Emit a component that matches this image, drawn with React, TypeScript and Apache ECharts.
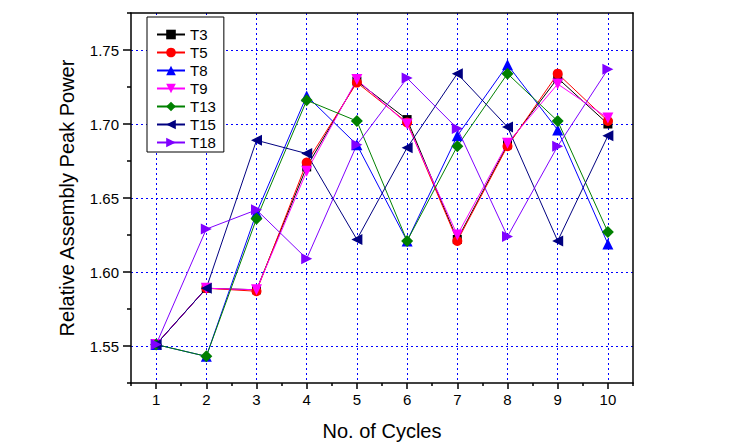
import React, { useEffect, useRef } from "react";
import * as echarts from "echarts";

const cycles = [1, 2, 3, 4, 5, 6, 7, 8, 9, 10];
const xMinorTicks = [0.5, 1.5, 2.5, 3.5, 4.5, 5.5, 6.5, 7.5, 8.5, 9.5, 10.5];
const yMajorTicks = [1.55, 1.6, 1.65, 1.7, 1.75];
const yMinorTicks = [1.525, 1.575, 1.625, 1.675, 1.725, 1.775];

const T3 = [1.551, 1.589, 1.588, 1.671, 1.729, 1.703, 1.622, 1.686, 1.731, 1.7];
const T5 = [1.551, 1.589, 1.587, 1.674, 1.728, 1.701, 1.621, 1.685, 1.734, 1.702];
const T8 = [1.551, 1.543, 1.64, 1.719, 1.686, 1.621, 1.692, 1.74, 1.696, 1.619];
const T9 = [1.551, 1.589, 1.588, 1.668, 1.73, 1.7, 1.625, 1.687, 1.727, 1.704];
const T13 = [1.551, 1.543, 1.636, 1.716, 1.702, 1.621, 1.685, 1.734, 1.702, 1.627];
const T15 = [1.551, 1.589, 1.689, 1.68, 1.622, 1.684, 1.734, 1.698, 1.621, 1.692];
const T18 = [1.551, 1.629, 1.642, 1.609, 1.686, 1.731, 1.697, 1.624, 1.685, 1.737];

const seriesDefs = [
  { name: "T3", data: T3, color: "#000000", symbol: "rect", rotate: 0, size: 9 },
  { name: "T5", data: T5, color: "#ff0000", symbol: "circle", rotate: 0, size: 10 },
  { name: "T8", data: T8, color: "#0000ff", symbol: "triangle", rotate: 0, size: 11 },
  { name: "T9", data: T9, color: "#ff00ff", symbol: "triangle", rotate: 180, size: 11 },
  { name: "T13", data: T13, color: "#008000", symbol: "diamond", rotate: 0, size: 12 },
  { name: "T15", data: T15, color: "#000080", symbol: "triangle", rotate: 90, size: 11 },
  { name: "T18", data: T18, color: "#8000ff", symbol: "triangle", rotate: -90, size: 11 },
];

const FONT = "Liberation Sans, Arial, sans-serif";

export default function App() {
  const ref = useRef<HTMLDivElement>(null);
  useEffect(() => {
    if (!ref.current) return;
    const chart = echarts.init(ref.current, null, { renderer: "svg" });
    const gridLine = { show: true, lineStyle: { color: "#0000ff", type: [2, 3] as any, width: 1 } };
    chart.setOption({
      animation: false,
      backgroundColor: "#ffffff",
      textStyle: { fontFamily: FONT },
      grid: { left: 131, top: 13, width: 502, height: 370 },
      legend: {
        orient: "vertical",
        left: 147,
        top: 17,
        padding: [10, 8, 2, 9],
        itemWidth: 28,
        itemHeight: 12,
        itemGap: 3,
        borderColor: "#000",
        borderWidth: 1,
        backgroundColor: "#fff",
        textStyle: { fontSize: 15, color: "#000", fontFamily: FONT },
        data: seriesDefs.map((s) => s.name),
      },
      xAxis: [
        {
          type: "value",
          min: 0.5,
          max: 10.5,
          position: "bottom",
          name: "No. of Cycles",
          nameLocation: "middle",
          nameGap: 38,
          nameTextStyle: { fontSize: 20, color: "#000", fontFamily: FONT },
          axisLine: { show: true, onZero: false, lineStyle: { color: "#000", width: 1.5 } },
          axisTick: { show: true, inside: false, length: 6, customValues: cycles, lineStyle: { color: "#000", width: 1.5 } },
          axisLabel: { show: true, customValues: cycles, fontSize: 15, color: "#000", margin: 9, fontFamily: FONT },
          splitLine: gridLine,
        },
        {
          type: "value",
          min: 0.5,
          max: 10.5,
          position: "bottom",
          axisLine: { show: false, onZero: false },
          axisTick: { show: true, inside: false, length: 3, customValues: xMinorTicks, lineStyle: { color: "#000", width: 1.5 } },
          axisLabel: { show: false },
          splitLine: { show: false },
        },
        {
          type: "value",
          min: 0.5,
          max: 10.5,
          position: "top",
          axisLine: { show: true, onZero: false, lineStyle: { color: "#000", width: 1.5 } },
          axisTick: { show: false },
          axisLabel: { show: false },
          splitLine: { show: false },
        },
      ],
      yAxis: [
        {
          type: "value",
          min: 1.525,
          max: 1.775,
          position: "left",
          name: "Relative Assembly Peak Power",
          nameLocation: "middle",
          nameGap: 54,
          nameTextStyle: { fontSize: 20, color: "#000", fontFamily: FONT },
          axisLine: { show: true, onZero: false, lineStyle: { color: "#000", width: 1.5 } },
          axisTick: { show: true, inside: false, length: 8, customValues: yMajorTicks, lineStyle: { color: "#000", width: 1.5 } },
          axisLabel: {
            show: true,
            customValues: yMajorTicks,
            fontSize: 15,
            color: "#000",
            margin: 12,
            fontFamily: FONT,
            formatter: (v: number) => v.toFixed(2),
          },
          splitLine: gridLine,
        },
        {
          type: "value",
          min: 1.525,
          max: 1.775,
          position: "left",
          axisLine: { show: false, onZero: false },
          axisTick: { show: true, inside: false, length: 4, customValues: yMinorTicks, lineStyle: { color: "#000", width: 1.5 } },
          axisLabel: { show: false },
          splitLine: { show: false },
        },
        {
          type: "value",
          min: 1.525,
          max: 1.775,
          position: "right",
          axisLine: { show: true, onZero: false, lineStyle: { color: "#000", width: 1.5 } },
          axisTick: { show: false },
          axisLabel: { show: false },
          splitLine: { show: false },
        },
      ],
      series: seriesDefs.map((s) => ({
        name: s.name,
        type: "line",
        xAxisIndex: 0,
        yAxisIndex: 0,
        data: s.data.map((v, i) => [cycles[i], v]),
        symbol: s.symbol,
        symbolSize: s.size,
        symbolRotate: s.rotate,
        showAllSymbol: true,
        color: s.color,
        itemStyle: { color: s.color, borderWidth: 0 },
        lineStyle: { color: s.color, width: 1 },
      })),
    });
    return () => chart.dispose();
  }, []);
  return (
    <div
      ref={ref}
      style={{ position: "fixed", left: 0, top: 0, width: 739, height: 448, background: "#fff" }}
    />
  );
}
